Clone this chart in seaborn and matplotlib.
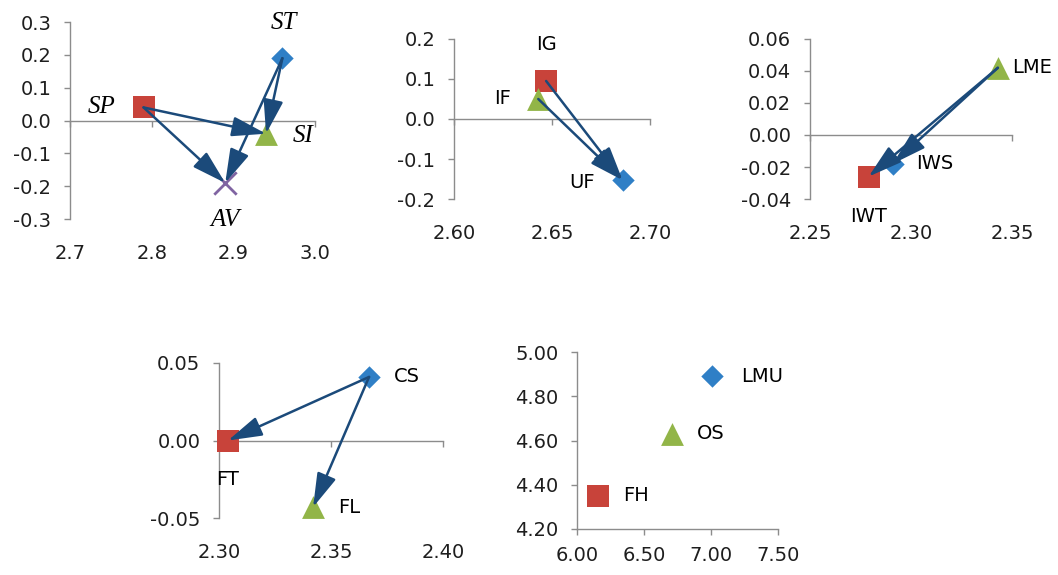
import numpy as np
import pandas as pd
import matplotlib
matplotlib.use("Agg")
import matplotlib.pyplot as plt
import seaborn as sns
from matplotlib.ticker import FormatStrFormatter
from matplotlib.patches import ArrowStyle

sns.set_theme(style="ticks")
plt.rcParams['font.family'] = ['DejaVu Sans']

# ---- data ----
# series order in every panel: diamond, square, triangle, cross
p1_names = ["ST", "SP", "SI", "AV"]
p1_x = [2.96, 2.79, 2.94, 2.89]
p1_y = [0.19, 0.04, -0.04, -0.19]
p1_arrows = [("SP", "SI"), ("SP", "AV"), ("ST", "SI"), ("ST", "AV")]
p1_xticks = [2.7, 2.8, 2.9, 3.0]
p1_yticks = [-0.3, -0.2, -0.1, 0.0, 0.1, 0.2, 0.3]

p2_names = ["UF", "IG", "IF"]
p2_x = [2.686, 2.647, 2.643]
p2_y = [-0.153, 0.095, 0.05]
p2_arrows = [("IG", "UF"), ("IF", "UF")]
p2_xticks = [2.60, 2.65, 2.70]
p2_yticks = [-0.2, -0.1, 0.0, 0.1, 0.2]

p3_names = ["IWS", "IWT", "LME"]
p3_x = [2.291, 2.279, 2.343]
p3_y = [-0.018, -0.026, 0.042]
p3_arrows = [("LME", "IWS"), ("LME", "IWT")]
p3_xticks = [2.25, 2.30, 2.35]
p3_yticks = [-0.04, -0.02, 0.00, 0.02, 0.04, 0.06]

p4_names = ["CS", "FT", "FL"]
p4_x = [2.367, 2.304, 2.342]
p4_y = [0.041, 0.0, -0.043]
p4_arrows = [("CS", "FT"), ("CS", "FL")]
p4_xticks = [2.30, 2.35, 2.40]
p4_yticks = [-0.05, 0.00, 0.05]

p5_names = ["LMU", "FH", "OS"]
p5_x = [7.01, 6.16, 6.71]
p5_y = [4.89, 4.35, 4.63]
p5_arrows = []
p5_xticks = [6.00, 6.50, 7.00, 7.50]
p5_yticks = [4.20, 4.40, 4.60, 4.80, 5.00]

# ---- styles ----
series_style = [
    dict(marker="D", color="#2F7FC6", s=130),
    dict(marker="s", color="#C8433A", s=250),
    dict(marker="^", color="#92B548", s=270),
    dict(marker="x", color="#8064A2", s=260),
]
AXIS_GRAY = "#8C8C8C"
ARROW_COL = "#1B4A7A"
TEXT_COL = "#1E1E1E"
FS = 14

# label offsets in points (dx, dy, ha)
label_pos = {
    "ST": (1, 25, "center"), "SP": (-30, 0, "center"), "SI": (27, -2, "center"), "AV": (0, -27, "center"),
    "IG": (0, 26, "center"), "IF": (-26, 0, "center"), "UF": (-29, -2, "center"),
    "LME": (10, 0, "left"), "IWS": (17, 0, "left"), "IWT": (0, -29, "center"),
    "CS": (18, 0, "left"), "FT": (0, -28, "center"), "FL": (18, 0, "left"),
    "LMU": (21, 0, "left"), "OS": (18, 0, "left"), "FH": (18, 0, "left"),
}

panels = [
    dict(names=p1_names, x=p1_x, y=p1_y, arrows=p1_arrows, xt=p1_xticks, yt=p1_yticks,
         rect=[0.0662, 0.619, 0.2316, 0.3426], xf="%.1f", yf="%.1f", zero=True, italic=True),
    dict(names=p2_names, x=p2_x, y=p2_y, arrows=p2_arrows, xt=p2_xticks, yt=p2_yticks,
         rect=[0.4291, 0.6539, 0.1853, 0.2783], xf="%.2f", yf="%.1f", zero=True, italic=False),
    dict(names=p3_names, x=p3_x, y=p3_y, arrows=p3_arrows, xt=p3_xticks, yt=p3_yticks,
         rect=[0.7656, 0.6539, 0.1909, 0.2783], xf="%.2f", yf="%.2f", zero=True, italic=False),
    dict(names=p4_names, x=p4_x, y=p4_y, arrows=p4_arrows, xt=p4_xticks, yt=p4_yticks,
         rect=[0.207, 0.0991, 0.2117, 0.2696], xf="%.2f", yf="%.2f", zero=True, italic=False),
    dict(names=p5_names, x=p5_x, y=p5_y, arrows=p5_arrows, xt=p5_xticks, yt=p5_yticks,
         rect=[0.5454, 0.080, 0.190, 0.3078], xf="%.2f", yf="%.2f", zero=False, italic=False),
]

fig = plt.figure(figsize=(10.58, 5.75), dpi=100)
fig.patch.set_facecolor("white")

for p in panels:
    ax = fig.add_axes(p["rect"])
    df = pd.DataFrame({"name": p["names"], "x": p["x"], "y": p["y"]})

    for i, row in df.iterrows():
        st = series_style[i]
        if st["marker"] == "x":
            sns.scatterplot(x=[row.x], y=[row.y], ax=ax, marker="x", color=st["color"],
                            s=st["s"], linewidth=2, zorder=3, clip_on=False, legend=False)
        else:
            sns.scatterplot(x=[row.x], y=[row.y], ax=ax, marker=st["marker"], color=st["color"],
                            s=st["s"], linewidth=0, zorder=3, clip_on=False, legend=False)

    pos = {n: (xx, yy) for n, xx, yy in zip(df["name"], df["x"], df["y"])}
    for a, b in p["arrows"]:
        ax.annotate("", xy=pos[b], xytext=pos[a], zorder=5,
                    arrowprops=dict(arrowstyle=ArrowStyle("-|>", head_length=1.1, head_width=0.32),
                                    mutation_scale=19, color=ARROW_COL, lw=1.8,
                                    shrinkA=0, shrinkB=0))

    for n in p["names"]:
        dx, dy, ha = label_pos[n]
        if p["italic"]:
            ax.annotate(n, pos[n], xytext=(dx, dy), textcoords="offset points", ha=ha, va="center",
                        fontsize=18, style="italic", family="Liberation Serif", color="black", zorder=6)
        else:
            ax.annotate(n, pos[n], xytext=(dx, dy), textcoords="offset points", ha=ha, va="center",
                        fontsize=FS, color="black", zorder=6)

    ax.set_xlim(p["xt"][0], p["xt"][-1])
    ax.set_ylim(p["yt"][0], p["yt"][-1])
    ax.set_yticks(p["yt"])
    ax.set_xticks(p["xt"])
    ax.yaxis.set_major_formatter(FormatStrFormatter(p["yf"]))
    ax.xaxis.set_major_formatter(FormatStrFormatter(p["xf"]))
    ax.set_xlabel("")
    ax.set_ylabel("")
    ax.set_facecolor("none")

    for sp in ["top", "right"]:
        ax.spines[sp].set_visible(False)
    for sp in ["left", "bottom"]:
        ax.spines[sp].set_color(AXIS_GRAY)
        ax.spines[sp].set_linewidth(1)

    ax.tick_params(axis="y", left=True, length=4.5, width=1, color=AXIS_GRAY,
                   labelsize=FS, labelcolor=TEXT_COL, pad=9)

    if p["zero"]:
        ax.spines["bottom"].set_position(("data", 0))
        ax.tick_params(axis="x", bottom=True, length=4.5, width=1, color=AXIS_GRAY, labelbottom=False)
        sec = ax.secondary_xaxis("bottom")
        sec.set_xticks(p["xt"])
        sec.xaxis.set_major_formatter(FormatStrFormatter(p["xf"]))
        sec.spines["bottom"].set_visible(False)
        sec.tick_params(axis="x", length=0, labelsize=FS, labelcolor=TEXT_COL, pad=18)
    else:
        ax.tick_params(axis="x", bottom=True, length=4.5, width=1, color=AXIS_GRAY,
                       labelsize=FS, labelcolor=TEXT_COL, pad=8)

fig.savefig("out.png", dpi=100)
